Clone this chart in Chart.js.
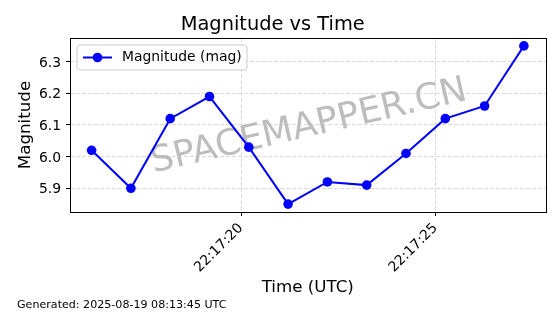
<!DOCTYPE html>
<html>
<head>
<meta charset="utf-8">
<title>Magnitude vs Time</title>
<script src="https://cdn.jsdelivr.net/npm/chart.js@4.4.0/dist/chart.umd.min.js"></script>
<style>
  html, body { margin: 0; padding: 0; background: #fff; }
  #wrap { width: 560px; height: 314px; }
</style>
</head>
<body>
<div id="wrap"><canvas id="magChart" width="560" height="314"></canvas></div>
<script>
// Observation times (UTC) and measured magnitudes
const obsTimes = ['22:17:16.16', '22:17:17.17', '22:17:18.18', '22:17:19.19', '22:17:20.20', '22:17:21.21',
                  '22:17:22.22', '22:17:23.23', '22:17:24.24', '22:17:25.25', '22:17:26.26', '22:17:27.27'];
const magnitudes = [6.02, 5.90, 6.12, 6.19, 6.03, 5.85, 5.92, 5.91, 6.01, 6.12, 6.16, 6.35];

// Axis ticks
const xTickTimes = ['22:17:20', '22:17:25'];
const yTicks = [5.9, 6.0, 6.1, 6.2, 6.3];

const seriesLabel = 'Magnitude (mag)';
const generatedStamp = 'Generated: 2025-08-19 08:13:45 UTC';
const watermarkText = 'SPACEMAPPER.CN';

const FONT = "'DejaVu Sans', sans-serif";

// "HH:MM:SS.ss" -> seconds of day
function toSec(str) {
    const p = str.split(':');
    return (+p[0]) * 3600 + (+p[1]) * 60 + parseFloat(p[2]);
}

function fmtTime(sec) {
    const s = Math.round(sec);
    const pad = n => String(n).padStart(2, '0');
    return pad(Math.floor(s / 3600)) + ':' + pad(Math.floor(s / 60) % 60) + ':' + pad(s % 60);
}

const points = obsTimes.map((t, i) => ({ x: toSec(t), y: magnitudes[i] }));

// matplotlib-like 5% margins
const xs = points.map(p => p.x);
const xPad = (Math.max(...xs) - Math.min(...xs)) * 0.05;
const yPad = (Math.max(...magnitudes) - Math.min(...magnitudes)) * 0.05;

// Extra drawing: watermark under the line, then frame, legend, footer on top
const decorPlugin = {
    id: 'decor',
    beforeDatasetsDraw(chart) {
        const ctx = chart.ctx;
        ctx.save();
        ctx.translate(309, 127);
        ctx.rotate(-13 * Math.PI / 180);
        ctx.font = '36px ' + FONT;
        ctx.fillStyle = '#bdbdbd';
        ctx.textAlign = 'center';
        ctx.textBaseline = 'middle';
        ctx.fillText(watermarkText, 0, 0);
        ctx.restore();
    },
    afterDraw(chart) {
        const ctx = chart.ctx;
        const a = chart.chartArea;
        ctx.save();

        // frame
        ctx.strokeStyle = '#000';
        ctx.lineWidth = 1;
        ctx.strokeRect(Math.round(a.left) + 0.5, Math.round(a.top) + 0.5,
                       Math.round(a.right - a.left), Math.round(a.bottom - a.top));

        // legend
        const lx = 77, ly = 45, lw = 170, lh = 25, r = 3;
        ctx.beginPath();
        ctx.moveTo(lx + r, ly);
        ctx.arcTo(lx + lw, ly, lx + lw, ly + lh, r);
        ctx.arcTo(lx + lw, ly + lh, lx, ly + lh, r);
        ctx.arcTo(lx, ly + lh, lx, ly, r);
        ctx.arcTo(lx, ly, lx + lw, ly, r);
        ctx.closePath();
        ctx.fillStyle = 'rgba(255,255,255,0.8)';
        ctx.fill();
        ctx.strokeStyle = '#cccccc';
        ctx.stroke();

        const cy = ly + lh / 2;
        ctx.strokeStyle = '#0000ff';
        ctx.lineWidth = 2;
        ctx.beginPath();
        ctx.moveTo(83, cy);
        ctx.lineTo(112, cy);
        ctx.stroke();
        ctx.fillStyle = '#0000ff';
        ctx.beginPath();
        ctx.arc(97.5, cy, 4.8, 0, Math.PI * 2);
        ctx.fill();

        ctx.fillStyle = '#000';
        ctx.font = '13.9px ' + FONT;
        ctx.textAlign = 'left';
        ctx.textBaseline = 'middle';
        ctx.fillText(seriesLabel, 122, cy);

        // footer
        ctx.font = '11.1px ' + FONT;
        ctx.textBaseline = 'alphabetic';
        ctx.fillText(generatedStamp, 17, 308);

        ctx.restore();
    }
};

Chart.defaults.font.family = FONT;
Chart.defaults.color = '#000';

const ctx = document.getElementById('magChart').getContext('2d');
new Chart(ctx, {
    type: 'line',
    data: {
        datasets: [{
            label: seriesLabel,
            data: points,
            borderColor: '#0000ff',
            backgroundColor: '#0000ff',
            borderWidth: 2,
            pointRadius: 4.8,
            pointHoverRadius: 4.8,
            pointBorderWidth: 0,
            tension: 0,
            fill: false
        }]
    },
    options: {
        responsive: false,
        animation: false,
        devicePixelRatio: 1,
        layout: { padding: { left: 0, right: 14.5, top: 0, bottom: 0 } },
        scales: {
            x: {
                type: 'linear',
                min: Math.min(...xs) - xPad,
                max: Math.max(...xs) + xPad,
                afterBuildTicks: s => { s.ticks = xTickTimes.map(t => ({ value: toSec(t) })); },
                afterFit: s => { s.height = 102; },
                ticks: {
                    minRotation: 45,
                    maxRotation: 45,
                    padding: 4,
                    autoSkip: false,
                    font: { size: 13.9 },
                    callback: v => fmtTime(v)
                },
                grid: { color: '#d0d0d0', lineWidth: 0.8, tickColor: '#000', tickLength: 4, tickWidth: 1, tickBorderDash: [] },
                border: { display: false, dash: [4, 2] },
                title: { display: true, text: 'Time (UTC)', font: { size: 16.7 }, padding: { top: 0, bottom: 16.8 } }
            },
            y: {
                min: Math.min(...magnitudes) - yPad,
                max: Math.max(...magnitudes) + yPad,
                afterBuildTicks: s => { s.ticks = yTicks.map(v => ({ value: v })); },
                afterFit: s => { s.width = 70; },
                ticks: { padding: 5, labelOffset: 1.5, font: { size: 13.9 }, callback: v => v.toFixed(1) },
                grid: { color: '#d0d0d0', lineWidth: 0.8, tickColor: '#000', tickLength: 4, tickWidth: 1, tickBorderDash: [] },
                border: { display: false, dash: [4, 2] },
                title: { display: true, text: 'Magnitude', font: { size: 16.7 }, padding: { top: 15.2, bottom: 0 } }
            }
        },
        plugins: {
            legend: { display: false },
            tooltip: { enabled: false },
            title: {
                display: true,
                text: 'Magnitude vs Time',
                font: { size: 19.4, weight: 'normal' },
                padding: { top: 13.35, bottom: 1.35 }
            }
        }
    },
    plugins: [decorPlugin]
});
</script>
</body>
</html>
